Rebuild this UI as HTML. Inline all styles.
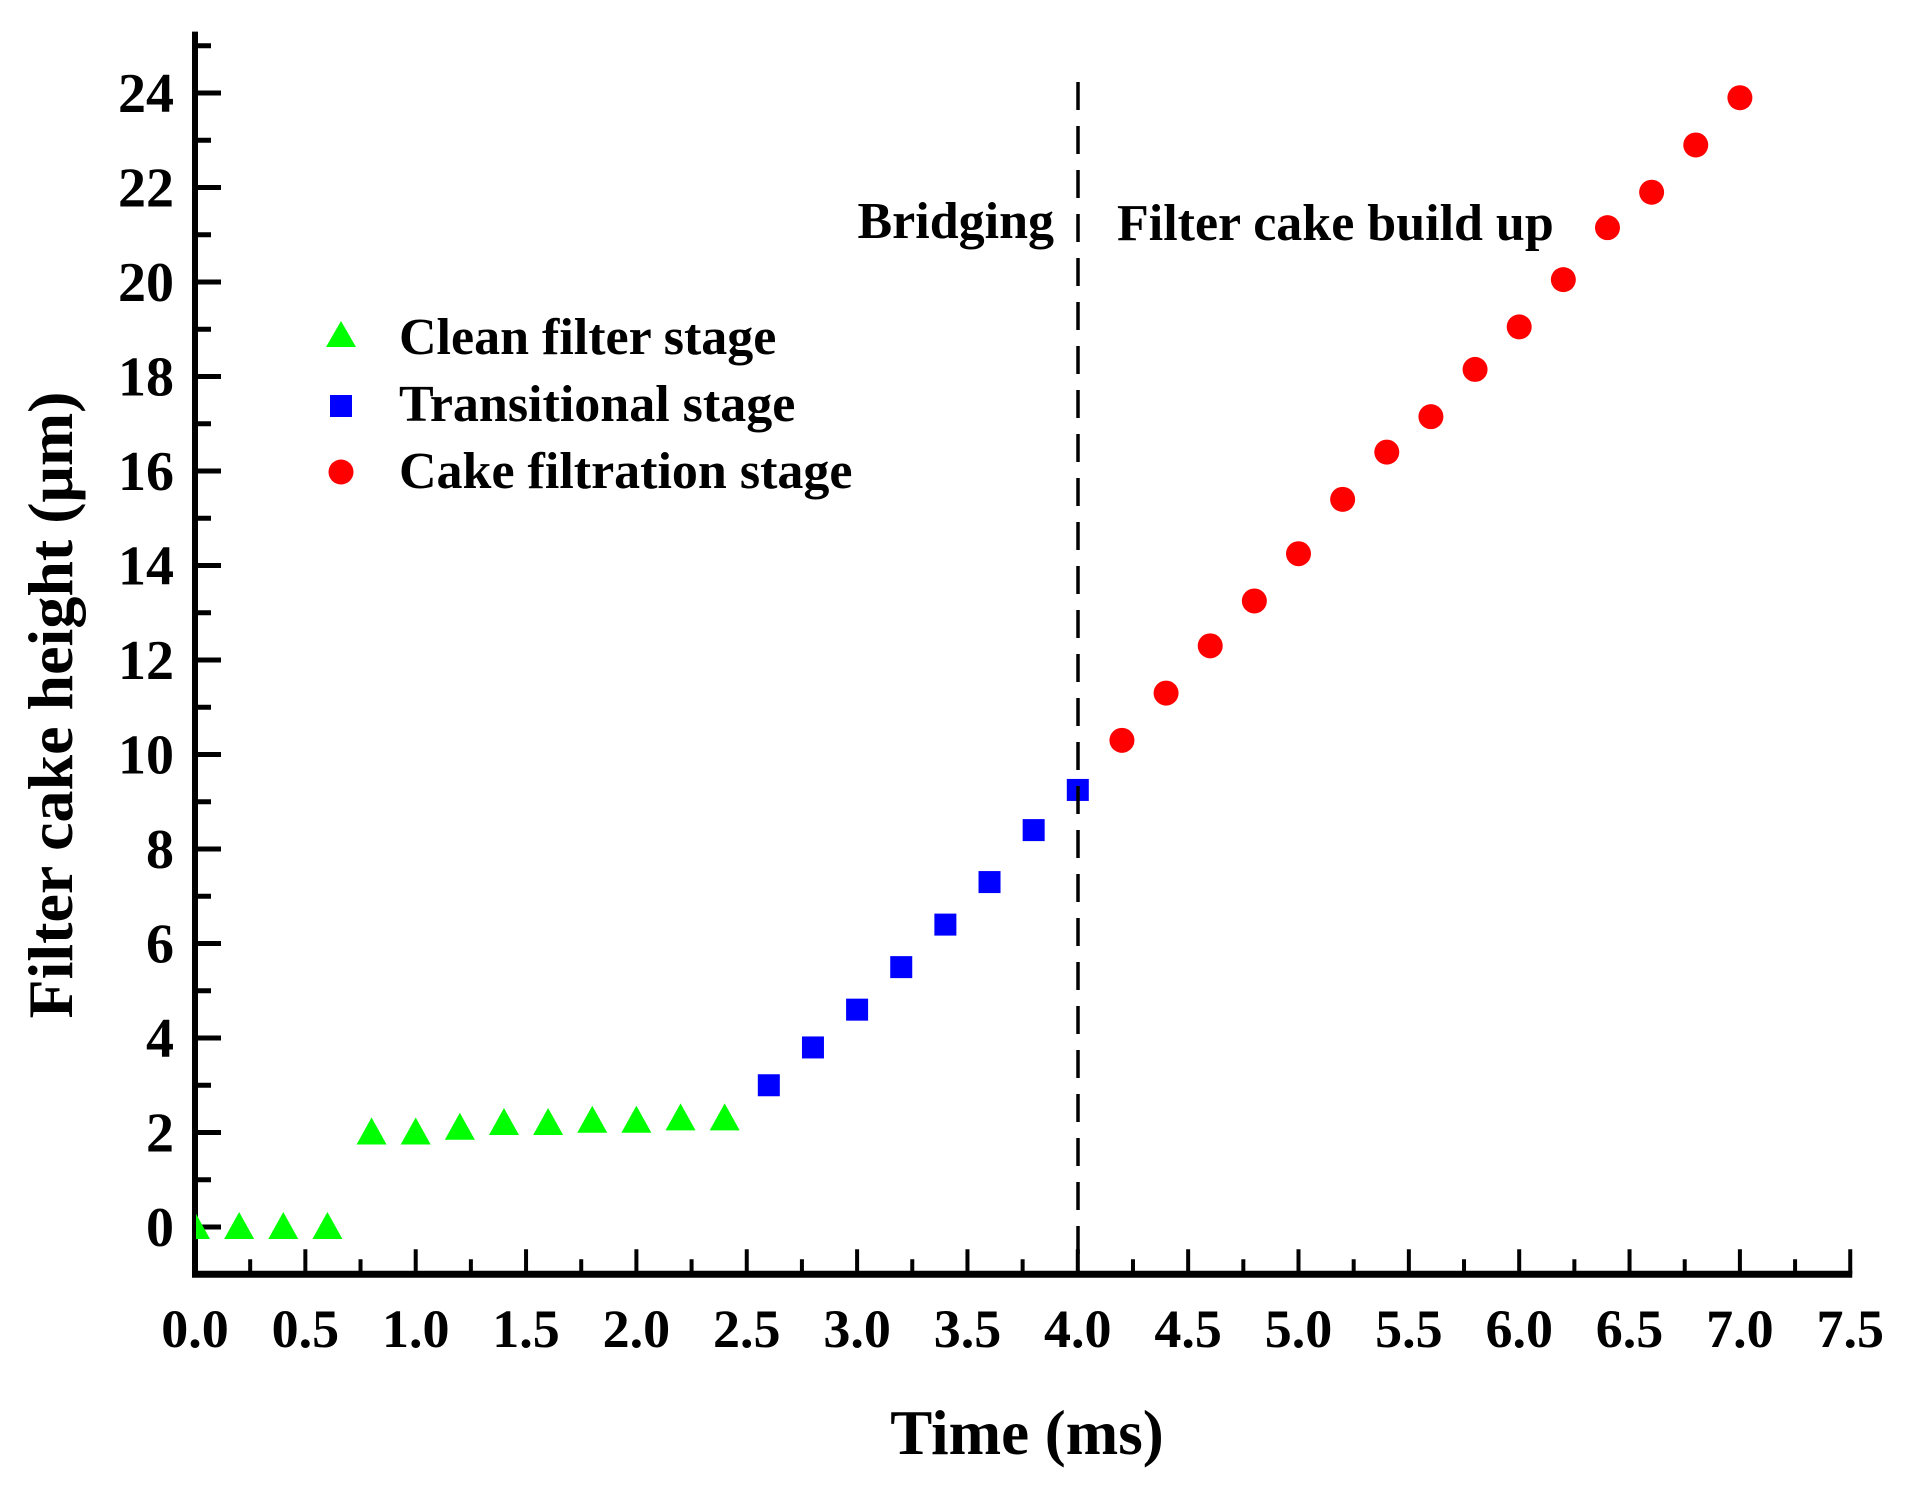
<!DOCTYPE html>
<html><head><meta charset="utf-8"><style>
html,body{margin:0;padding:0;background:#fff}
svg{display:block}
text{font-family:"Liberation Serif",serif;font-weight:bold;fill:#000}
</style></head><body>
<svg id="s" width="1912" height="1490" viewBox="0 0 1912 1490" xmlns="http://www.w3.org/2000/svg">
<defs><clipPath id="c"><rect x="196" y="40" width="1670" height="1240"/></clipPath></defs>
<g id="ax"></g>
<g id="pts" clip-path="url(#c)"></g>
<line x1="1078" y1="82" x2="1078" y2="1276" stroke="#000" stroke-width="3.5" stroke-dasharray="28,16"/>
<text x="1054" y="238" font-size="52" text-anchor="end">Bridging</text>
<text x="1117" y="240" font-size="52">Filter cake build up</text>
<polygon points="341,321 326,347 356,347" fill="#00ff00"/>
<rect x="330" y="395" width="22" height="22" fill="#0000ff"/>
<circle cx="341" cy="472" r="12.5" fill="#ff0000"/>
<text x="399" y="354" font-size="52">Clean filter stage</text>
<text x="399" y="421" font-size="52">Transitional stage</text>
<text x="399" y="488" font-size="52">Cake filtration stage</text>
<text x="1027" y="1454" font-size="63" text-anchor="middle">Time (ms)</text>
<text transform="translate(72,705) rotate(-90)" font-size="64" text-anchor="middle">Filter cake height (μm)</text>
</svg>
<script>
var NS="http://www.w3.org/2000/svg";
function X(t){return 195+220.7*t}
function Y(v){return 1227-47.25*v}
function el(p,n,a,txt){var e=document.createElementNS(NS,n);for(var k in a)e.setAttribute(k,a[k]);if(txt!==undefined)e.textContent=txt;p.appendChild(e);return e}
var ax=document.getElementById('ax'),pts=document.getElementById('pts');
var yb=Y(-1),yt=Y(25.3);
el(ax,'line',{x1:195,y1:yt,x2:195,y2:yb+3,stroke:'#000','stroke-width':6});
el(ax,'line',{x1:192,y1:yb,x2:X(7.5)+2,y2:yb,stroke:'#000','stroke-width':7});
for(var v=-1;v<=25;v++){var maj=v%2==0;el(ax,'line',{x1:195,y1:Y(v),x2:195+(maj?26:16),y2:Y(v),stroke:'#000','stroke-width':5});
 if(maj&&v>=0)el(ax,'text',{x:174,y:Y(v)+19,'font-size':56,'text-anchor':'end'},String(v));}
for(var i=1;i<=30;i++){var t=i*0.25,maj=i%2==0;el(ax,'line',{x1:X(t),y1:yb,x2:X(t),y2:yb-(maj?25:15),stroke:'#000','stroke-width':4});}
for(var i=0;i<=15;i++){el(ax,'text',{x:X(i*0.5),y:1347,'font-size':54,'text-anchor':'middle'},(i*0.5).toFixed(1));}
var g=[0,0,0,0,2.0,2.0,2.1,2.2,2.2,2.25,2.25,2.3,2.3];
g.forEach(function(v,i){var x=X(i*0.2),y=Y(v);el(pts,'polygon',{points:(x)+','+(y-15)+' '+(x-15)+','+(y+12)+' '+(x+15)+','+(y+12),fill:'#00ff00'})});
var b=[3.0,3.8,4.6,5.5,6.4,7.3,8.4,9.25];
b.forEach(function(v,i){var x=X(2.6+i*0.2),y=Y(v);el(pts,'rect',{x:x-11,y:y-11,width:22,height:22,fill:'#0000ff'})});
var r=[10.3,11.3,12.3,13.25,14.25,15.4,16.4,17.15,18.15,19.05,20.05,21.15,21.9,22.9,23.9];
r.forEach(function(v,i){el(pts,'circle',{cx:X(4.2+i*0.2),cy:Y(v),r:12.5,fill:'#ff0000'})});
</script>
</body></html>
